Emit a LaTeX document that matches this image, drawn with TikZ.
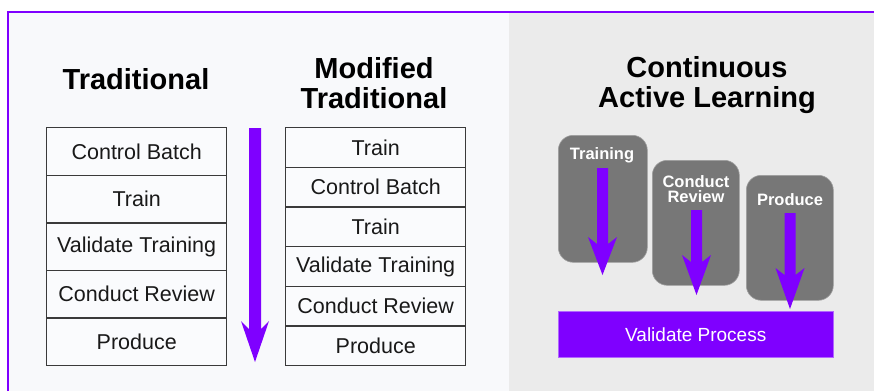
\documentclass[tikz,border=0pt]{standalone}
\usepackage{fontspec}
\setmainfont{Liberation Sans}
\definecolor{vio}{HTML}{7F00FF}
\definecolor{panel}{HTML}{EBEBEB}
\definecolor{leftbg}{HTML}{F8F9FB}
\definecolor{cellfill}{HTML}{FAFBFD}
\definecolor{cellline}{HTML}{3A3A3A}
\definecolor{grbox}{HTML}{777777}
\tikzset{
  title/.style={font=\fontsize{29}{29.5}\selectfont\bfseries, align=center, text=black, inner sep=0pt},
  cell/.style={draw=cellline, line width=1.4pt, fill=cellfill, anchor=north west, inner sep=0pt,
    font=\fontsize{21.5}{24}\selectfont, text=black!90},
  grnode/.style={draw=gray!75, line width=0.6pt, fill=grbox, rounded corners=15pt, anchor=north west, inner sep=0pt},
  grtext/.style={font=\fontsize{16.5}{16}\selectfont\bfseries, text=white, align=center, inner sep=0pt},
}
\begin{document}
\begin{tikzpicture}[x=1pt,y=-1pt]
\useasboundingbox (0,0) rectangle (874,391);
\fill[white] (0,0) rectangle (874,391);
\fill[leftbg] (8,12) rectangle (509,391);
\fill[panel] (509,13) rectangle (874,391);
\draw[vio, line width=2pt] (8,391) -- (8,12) -- (874,12);

% titles
\node[title] (t1) at (136,79) {Traditional};
\node[title] (t2) at (374,83) {Modified\\Traditional};
\node[title] (t3) at (707,85) {Continuous\\Active Learning};

% traditional column
\foreach \i/\txt in {0/Control Batch,1/Train,2/Validate Training,3/Conduct Review,4/Produce}{
  \node[cell, minimum width=180pt, minimum height=47.6pt] (a\i) at (46,{127+47.6*\i}) {\txt};
}
% modified column
\foreach \i/\txt in {0/Train,1/Control Batch,2/Train,3/Validate Training,4/Conduct Review,5/Produce}{
  \node[cell, minimum width=180pt, minimum height=39.67pt] (b\i) at (285,{127+39.67*\i}) {\txt};
}

% big arrow
\coordinate (ba) at (255,128);
\fill[vio] (249,128) -- (261,128) -- (261,329) -- (269,321)
  -- (255,362) -- (241,321) -- (249,329) -- cycle;

% continuous active learning boxes
\node[grnode, minimum width=89pt, minimum height=127pt] (g1) at (558,135) {};
\node[grnode, minimum width=87pt, minimum height=125pt] (g2) at (652,160) {};
\node[grnode, minimum width=87pt, minimum height=125pt] (g3) at (746,175) {};
\node[grtext] (l1) at (602,155) {Training};
\node[grtext, font=\fontsize{16.5}{15.5}\selectfont\bfseries] (l2) at (696,189) {Conduct\\Review};
\node[grtext] (l3) at (790,200) {Produce};

% validate process bar
\node[fill=vio, draw=vio!60, line width=0.5pt, minimum width=275pt, minimum height=46pt, anchor=north west,
  inner sep=0pt, text=white, font=\fontsize{19}{22}\selectfont] (vp) at (558,311) {Validate Process};

% small arrows
\foreach \cx/\ty/\hy/\tipy in {602.5/168/237/275, 696.5/210/255/295, 790/213/268/309}{
  \fill[vio] ({\cx-5.5},\ty) -- ({\cx+5.5},\ty) -- ({\cx+5.5},{\hy+7}) -- ({\cx+14.5},\hy)
    -- (\cx,\tipy) -- ({\cx-14.5},\hy) -- ({\cx-5.5},{\hy+7}) -- cycle;
}
\end{tikzpicture}
\end{document}
